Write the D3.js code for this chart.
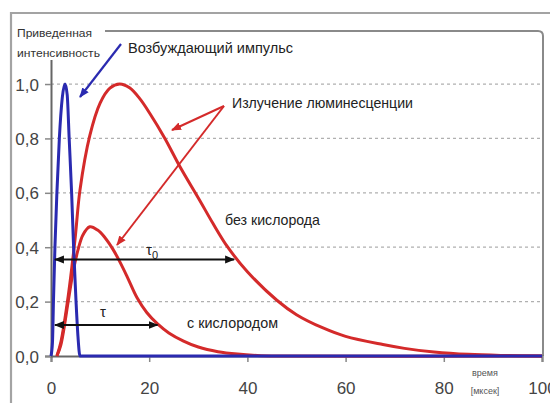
<!DOCTYPE html>
<html><head><meta charset="utf-8">
<script src="https://cdn.jsdelivr.net/npm/d3@7"></script>
<style>body{margin:0;background:#fff}svg{display:block}text{font-family:"Liberation Sans",Arial,sans-serif}</style>
</head><body><svg id="c" width="550" height="403"></svg>
<script>
const xTicks = [0, 20, 40, 60, 80, 100];
const yTicks = [0, 0.2, 0.4, 0.6, 0.8, 1.0];
const yTickLabels = ["0,0", "0,2", "0,4", "0,6", "0,8", "1,0"];
// excitation pulse (time, intensity)
const pulseT = [0, 0.3, 0.5, 0.8, 1.2, 1.7, 2.3, 2.85, 3.3, 3.7, 4.2, 4.6, 5.1, 5.5, 5.9, 100];
const pulseV = [0, 0.05, 0.2, 0.4, 0.6, 0.8, 0.95, 1.0, 0.96, 0.8, 0.6, 0.4, 0.2, 0.07, 0, 0];
// luminescence without oxygen
const noO2T = [1.2, 2, 3.5, 4.9, 5.9, 7.9, 10, 12, 14, 16, 18, 20.2, 23.2, 26.3, 30.3, 33, 36, 40, 46, 50, 55.4, 60, 67.6, 72, 78, 85, 92, 100];
const noO2V = [0, 0.05, 0.22, 0.43, 0.61, 0.81, 0.93, 0.985, 1.0, 0.986, 0.948, 0.89, 0.8, 0.695, 0.572, 0.487, 0.4, 0.31, 0.205, 0.152, 0.103, 0.072, 0.042, 0.028, 0.015, 0.006, 0.002, 0];
// luminescence with oxygen
const o2T = [1.2, 2, 3.5, 4.5, 5.5, 6.5, 7.9, 9.5, 11, 12.6, 14, 15.5, 17.5, 19.5, 21.7, 24, 27, 30, 34, 38, 42, 46, 100];
const o2V = [0, 0.04, 0.2, 0.31, 0.39, 0.445, 0.475, 0.463, 0.435, 0.393, 0.347, 0.292, 0.215, 0.16, 0.118, 0.085, 0.055, 0.033, 0.016, 0.007, 0.002, 0, 0];
// lifetime arrows (start, end, level)
const tau0Arrow = [0.8, 37.3, 0.355];
const tauArrow = [0.8, 21.7, 0.114];

const svg = d3.select("#c");
const x = d3.scaleLinear().domain([0, 100]).range([51, 542]);
const y = d3.scaleLinear().domain([0, 1.195]).range([356, 31]);

const defs = svg.append("defs");
function marker(id, color) {
  defs.append("marker").attr("id", id).attr("viewBox", "0 0 10 10").attr("refX", 9).attr("refY", 5)
    .attr("markerWidth", 10).attr("markerHeight", 10).attr("markerUnits", "userSpaceOnUse").attr("orient", "auto-start-reverse")
    .append("path").attr("d", "M0,1 L10,5 L0,9 Z").attr("fill", color);
}
marker("mk", "#111");
marker("mr", "#d42a2a");
marker("mb", "#2a2ab0");

// outer frame
svg.append("path").attr("d", "M11,403 L11,13 L550,13").attr("fill", "none").attr("stroke", "#a3a3a3").attr("stroke-width", 2.2);

// grid
svg.append("g").selectAll("line").data(yTicks.slice(1)).join("line")
  .attr("x1", x(0)).attr("x2", x(100)).attr("y1", d => y(d)).attr("y2", d => y(d))
  .attr("stroke", "#b0b0b0").attr("stroke-width", 1.2).attr("stroke-dasharray", "3,3");

// plot border (top & right)
const r = 5, L = x(100) + 1, T = y(1.195);
svg.append("path").attr("d", `M${x(0)},${T} L${L - r},${T} Q${L},${T} ${L},${T + r} L${L},${y(0)}`)
  .attr("fill", "none").attr("stroke", "#8a8a8a").attr("stroke-width", 2);

// axes
const xAxis = svg.append("g").attr("transform", `translate(0,${y(0)})`)
  .call(d3.axisBottom(x).tickValues(xTicks).tickSize(6).tickPadding(20).tickFormat(d3.format("d")));
const yAxis = svg.append("g").attr("transform", `translate(${x(0)},0)`)
  .call(d3.axisLeft(y).tickValues(yTicks).tickSize(6).tickPadding(6).tickFormat((d, i) => yTickLabels[i]));
[xAxis, yAxis].forEach(g => {
  g.select(".domain").attr("stroke", "#666").attr("stroke-width", 2);
  g.selectAll(".tick line").attr("stroke", "#888").attr("stroke-width", 1.5);
  g.selectAll("text").attr("font-size", 17).attr("fill", "#444").style("font-family", '"Liberation Sans",Arial,sans-serif');
});
yAxis.selectAll("text").attr("dy", "0.36em");

const smooth = d3.line().x(d => x(d[0])).y(d => y(d[1])).curve(d3.curveCatmullRom.alpha(0.5));
const mono = d3.line().x(d => x(d[0])).y(d => y(d[1])).curve(d3.curveMonotoneX);
const red = "#d42a2a", blue = "#2a2ab0";
svg.append("path").attr("d", smooth(noO2T.map((t, i) => [t, noO2V[i]]))).attr("fill", "none").attr("stroke", red).attr("stroke-width", 3);
svg.append("path").attr("d", smooth(o2T.map((t, i) => [t, o2V[i]]))).attr("fill", "none").attr("stroke", red).attr("stroke-width", 3);
svg.append("path").attr("d", mono(pulseT.map((t, i) => [t, pulseV[i]]))).attr("fill", "none").attr("stroke", blue).attr("stroke-width", 3);

// lifetime arrows
[tau0Arrow, tauArrow].forEach(a => {
  svg.append("line").attr("x1", x(a[0])).attr("x2", x(a[1])).attr("y1", y(a[2])).attr("y2", y(a[2]))
    .attr("stroke", "#111").attr("stroke-width", 2).attr("marker-start", "url(#mk)").attr("marker-end", "url(#mk)");
});

// label box for y title (covers border)
svg.append("rect").attr("x", 13).attr("y", 20).attr("width", 92).attr("height", 40).attr("fill", "#fff");
svg.append("text").attr("x", 17).attr("y", 37).attr("font-size", 10.5).attr("fill", "#333").text("Приведенная")
  .attr("textLength", 75).attr("lengthAdjust", "spacingAndGlyphs");
svg.append("text").attr("x", 17).attr("y", 57).attr("font-size", 10.5).attr("fill", "#333").text("интенсивность")
  .attr("textLength", 83).attr("lengthAdjust", "spacingAndGlyphs");

// annotations
function txt(s, xx, yy, fs, w) {
  return svg.append("text").attr("x", xx).attr("y", yy).attr("font-size", fs).attr("fill", "#222").text(s)
    .attr("textLength", w).attr("lengthAdjust", "spacingAndGlyphs");
}
txt("Возбуждающий импульс", 128, 53, 14.5, 165);
txt("Излучение люминесценции", 232, 108, 14.5, 181);
txt("без кислорода", 225, 225, 14.5, 95);
txt("с кислородом", 187, 328, 14.5, 91);
svg.append("text").attr("x", 146).attr("y", 255).attr("font-size", 15).attr("fill", "#222")
  .html('τ<tspan font-size="11" dy="4">0</tspan>');
svg.append("text").attr("x", 100).attr("y", 317).attr("font-size", 15).attr("fill", "#222").text("τ");
svg.append("text").attr("x", 485).attr("y", 376).attr("font-size", 9).attr("fill", "#555").attr("text-anchor", "middle").text("время");
svg.append("text").attr("x", 485).attr("y", 394).attr("font-size", 9).attr("fill", "#555").attr("text-anchor", "middle").text("[мксек]");

// pointer arrows
svg.append("line").attr("x1", 121).attr("y1", 44).attr("x2", 80).attr("y2", 97)
  .attr("stroke", blue).attr("stroke-width", 2.2).attr("marker-end", "url(#mb)");
[[172, 130], [117, 245]].forEach(p => {
  svg.append("line").attr("x1", 224).attr("y1", 106).attr("x2", p[0]).attr("y2", p[1])
    .attr("stroke", red).attr("stroke-width", 2).attr("marker-end", "url(#mr)");
});
</script></body></html>
